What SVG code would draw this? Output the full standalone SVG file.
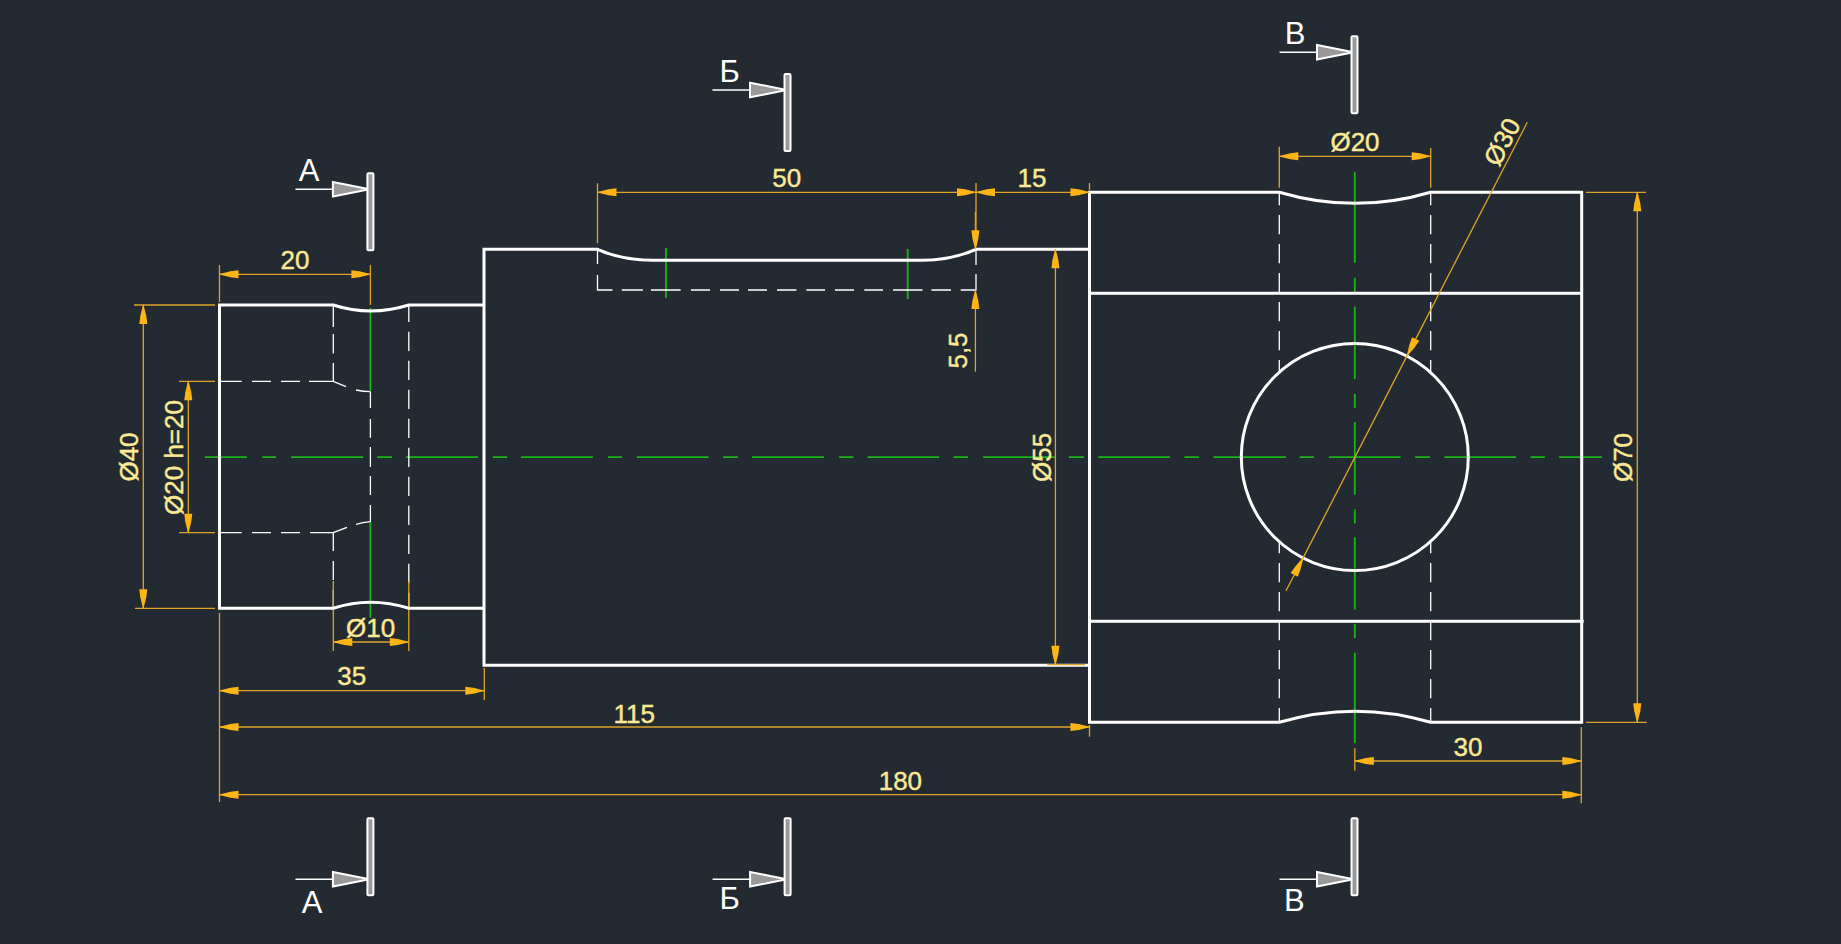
<svg xmlns="http://www.w3.org/2000/svg" width="1841" height="944" viewBox="0 0 1841 944">
<style>
.o{fill:none;stroke:#fff;stroke-width:3;stroke-linejoin:miter}
.h{fill:none;stroke:#fff;stroke-width:1.3}
.d{stroke-dasharray:19.3 9.7}
.g{fill:none;stroke:#17b517;stroke-width:1.8}
.e{fill:none;stroke:#dfa32a;stroke-width:1.3}
.a{marker-start:url(#arr);marker-end:url(#arr)}
.m{marker-end:url(#arr)}
.t{font-family:"Liberation Sans",Arial,sans-serif;font-size:26px;fill:#fbe995;stroke:#fbe995;stroke-width:.4;text-anchor:middle}
.c{font-family:"Liberation Sans",Arial,sans-serif;font-size:31px;fill:#fff;text-anchor:middle}
</style>
<defs>
<marker id="arr" markerUnits="userSpaceOnUse" markerWidth="24" markerHeight="12" refX="20" refY="6" orient="auto-start-reverse" overflow="visible">
<polygon points="1,2 1,10 9,9 20,6.3 20,5.7 9,3" fill="#fdb515"/>
</marker>
<g id="cut">
<path d="M-75 0H0" fill="none" stroke="#fff" stroke-width="1.5"/>
<polygon points="-37.5,-7.3 -1,0 -37.5,7.3" fill="#999" stroke="#fff" stroke-width="2"/>
<rect x="-3" y="-16" width="6" height="77" rx="1" fill="#999" stroke="#fff" stroke-width="2"/>
</g>
</defs>
<rect width="1841" height="944" fill="#232a32"/>

<g id="centerlines">
<path class="g" d="M205 457.2H246.7M262.3 457.2H276M291 457.2H363.3M377.3 457.2H392M406 457.2H478M493 457.2H507.3M521 457.2H593M608 457.2H622M637 457.2H708.6M723 457.2H738M752 457.2H824M839 457.2H853.5M867.5 457.2H939M953.5 457.2H968M983 457.2H1054.7M1069 457.2H1084M1098.4 457.2H1170M1184.4 457.2H1199M1213.5 457.2H1286M1299.7 457.2H1314M1329 457.2H1400.6M1415 457.2H1430M1444.4 457.2H1516M1530.5 457.2H1545M1559 457.2H1602"/>
<path class="g" d="M370.4 308V391M370.4 522V617.7"/>
<path class="g" d="M666 248V298M907.7 249V299"/>
<path class="g" d="M1354.8 172.3V262.7M1354.8 277.7V291.7M1354.8 306.7V379M1354.8 394V408M1354.8 422V494.5M1354.8 509.5V523.5M1354.8 537.3V609.8M1354.8 624V638M1354.8 652.7V743.3"/>
</g>

<g id="hidden-lines">
<path class="h" d="M333.3 305V327M333.3 334V353.5M333.3 363V381.3M333.3 532.7V551M333.3 561V580M333.3 590V608"/>
<path class="h d" stroke-dashoffset="2.3" d="M408.8 305V608"/>
<path class="h" d="M370.4 391.7V408M370.4 419V437.7M370.4 447V467M370.4 476V495M370.4 505V522"/>
<path class="h" d="M219.5 381.3H241.7M252 381.3H271M281 381.3H300M309 381.3H333.3L346 386.7M356 390Q363 391.5 370.4 391.7"/>
<path class="h" d="M219.5 532.7H241.7M252 532.7H271M281 532.7H300M310 532.7H333.3L347 527.3M356 524.3Q363 522.3 370.4 521.7"/>
<path class="h" d="M597.5 250V264M597.5 275V290H612.5M621.8 290H642.9M651 290H680.7M691 290H710M720 290H739M748 290H767M777 290H796.4M806.4 290H825M835 290H854M864.3 290H883M893 290H922.5M931.4 290H951M960.7 290H976V274M976 265V250"/>
<path class="h d" stroke-dashoffset="5.4" d="M1279.3 191.4V372.3"/>
<path class="h d" stroke-dashoffset="7.7" d="M1279.3 541.7V722"/>
<path class="h d" stroke-dashoffset="5.4" d="M1430.7 191.4V372.3"/>
<path class="h d" stroke-dashoffset="7.7" d="M1430.7 541.7V722"/>
</g>

<g id="dimension-under">
<path class="e" d="M333.3 581V651M408.8 581V651"/>
</g>

<g id="outline">
<path class="o" d="M484 305H408.8Q370.4 317 333.3 305H219.5V608.3H333.3Q370.4 596.3 408.8 608.3H484"/>
<path class="o" d="M1089.5 249.3H976Q951 260.3 922.5 260.3H652.9Q622 260.3 597.5 249.3H484V665.3H1089.5"/>
<path class="o" d="M1089.5 192.2H1279.3Q1355 214.5 1430.7 192.2H1581.7V722.3H1430.7Q1355 700 1279.3 722.3H1089.5Z"/>
<path class="o" d="M1089.5 293.3H1581.7M1089.5 621.2H1583.7"/>
<circle class="o" cx="1354.8" cy="457" r="113.5"/>
</g>

<g id="dimensions">
<g id="dim-20"><path class="e" d="M219.5 265V302M370.4 265V305"/><path class="e a" d="M219.5 274.3H370.4"/><text class="t" x="295" y="269.3">20</text></g>
<g id="dim-d40"><path class="e" d="M134 305H215M135 608.3H215"/><path class="e a" d="M143.3 305V608.3"/><text class="t" transform="translate(138.3 457) rotate(-90)">Ø40</text></g>
<g id="dim-d20"><path class="e" d="M179 381.3H215M179 532.7H215"/><path class="e a" d="M188.3 381.3V532.7"/><text class="t" transform="translate(182.7 457.5) rotate(-90)">Ø20 h=20</text></g>
<g id="dim-d10"><path class="e a" d="M333.3 642H408.8"/><text class="t" x="370.7" y="636.7">Ø10</text></g>
<g id="dim-35"><path class="e" d="M484.3 668V700"/><path class="e a" d="M219.5 690.7H484.3"/><text class="t" x="351.7" y="685">35</text></g>
<g id="dim-115"><path class="e" d="M1089.5 725V736.7"/><path class="e a" d="M219.5 727H1089.5"/><text class="t" x="634.3" y="722.7">115</text></g>
<g id="dim-180"><path class="e" d="M219.5 613V802M1581.3 727.3V803.3"/><path class="e a" d="M219.5 794.7H1581.3"/><text class="t" x="900.4" y="790">180</text></g>
<g id="dim-30"><path class="e" d="M1354.8 748.3V770.7"/><path class="e a" d="M1354.8 761H1581.3"/><text class="t" x="1468" y="756">30</text></g>
<g id="dim-50"><path class="e" d="M597.5 183.3V243.3M976 183V246"/><path class="e a" d="M597.5 192.3H976"/><text class="t" x="786.8" y="186.7">50</text></g>
<g id="dim-15"><path class="e" d="M1089.5 183V190"/><path class="e a" d="M976 192.3H1089.5"/><text class="t" x="1032" y="186.7">15</text></g>
<g id="dim-5-5"><path class="e m" d="M975.4 211.7V249.3"/><path class="e m" d="M975.4 371.7V290"/><text class="t" transform="translate(967 350.5) rotate(-90)">5,5</text></g>
<g id="dim-d55"><path class="e" d="M1047.3 664.7H1085"/><path class="e a" d="M1055.4 249.3V664.7"/><text class="t" transform="translate(1050.6 457.3) rotate(-90)">Ø55</text></g>
<g id="dim-d70"><path class="e" d="M1586 192.3H1646M1586 722.3H1646.7"/><path class="e a" d="M1637.3 192.3V722.3"/><text class="t" transform="translate(1632 457.5) rotate(-90)">Ø70</text></g>
<g id="dim-d20-top"><path class="e" d="M1279.3 146.7V187.7M1430.7 148V187.7"/><path class="e a" d="M1279.3 156.3H1430.7"/><text class="t" x="1355" y="151">Ø20</text></g>
<g id="dim-d30"><path class="e" d="M1407 355.9L1303 558.1" stroke-width="1"/><path class="e m" d="M1527.3 122.3L1407 355.9"/><path class="e m" d="M1286 590.7L1303 558.1"/><text class="t" transform="translate(1510 146) rotate(-62.7)">Ø30</text></g>
</g>

<g id="cut-a-top"><use href="#cut" transform="translate(370.4 189.3)"/><text class="c" x="309" y="181">А</text></g>
<g id="cut-b-top"><use href="#cut" transform="translate(787.5 90)"/><text class="c" x="729.6" y="82">Б</text></g>
<g id="cut-v-top"><use href="#cut" transform="translate(1354.5 52.3)"/><text class="c" x="1295" y="43.5">В</text></g>
<g id="cut-a-bottom"><use href="#cut" transform="translate(370.4 879.3) scale(1 -1)"/><text class="c" x="312" y="913.3">А</text></g>
<g id="cut-b-bottom"><use href="#cut" transform="translate(787.6 879.3) scale(1 -1)"/><text class="c" x="729.6" y="909.3">Б</text></g>
<g id="cut-v-bottom"><use href="#cut" transform="translate(1354.5 879.3) scale(1 -1)"/><text class="c" x="1294.3" y="911">В</text></g>
</svg>
